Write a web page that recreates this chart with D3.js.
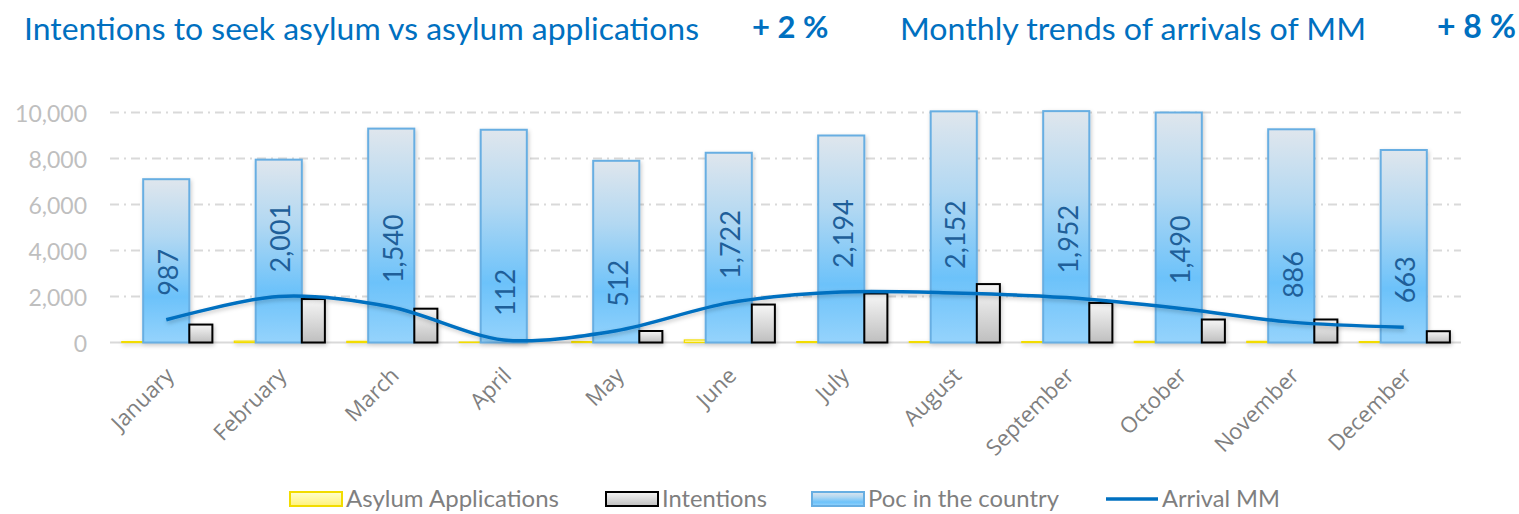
<!DOCTYPE html>
<html lang="en">
<head>
<meta charset="UTF-8">
<title>Intentions to seek asylum vs asylum applications</title>
<script src="https://d3js.org/d3.v7.min.js"></script>
<style>
    body, html { margin: 0; padding: 0; overflow: hidden; background: #fff; }
    .title { font-family: Lato, sans-serif; fill: #0070C0; }
    .ytick { font-family: Lato, sans-serif; font-size: 23px; fill: #BFBFBF; }
    .xtick { font-family: "Open Sans", sans-serif; font-size: 22px; fill: #808080; }
    .vlabel { font-family: Lato, sans-serif; font-size: 27px; fill: #1F5F99; }
    .legend text { font-family: Lato, sans-serif; font-size: 23px; fill: #7F7F7F; }
</style>
</head>
<body>
<svg id="chart" width="1519" height="514"></svg>
<script>
const months = ["January", "February", "March", "April", "May", "June", "July",
    "August", "September", "October", "November", "December"];
const asylumApps = [40, 60, 50, 20, 40, 110, 40, 40, 40, 50, 50, 40];
const intentions = [780, 1890, 1470, 0, 500, 1650, 2130, 2540, 1720, 1000, 1000, 490];
const pocCountry = [7100, 7950, 9300, 9250, 7900, 8250, 9000, 10050, 10060, 10000, 9270, 8370];
const arrivalMM = [987, 2001, 1540, 112, 512, 1722, 2194, 2152, 1952, 1490, 886, 663];
const yTicks = [0, 2000, 4000, 6000, 8000, 10000];
const legendItems = ["Asylum Applications", "Intentions", "Poc in the country", "Arrival MM"];

const svg = d3.select("#chart");
const fmt = d3.format(",");

// gradients + shadow
const defs = svg.append("defs");
function grad(id, stops) {
    const g = defs.append("linearGradient").attr("id", id)
        .attr("x1", 0).attr("y1", 0).attr("x2", 0).attr("y2", 1);
    stops.forEach(s => g.append("stop").attr("offset", s[0]).attr("stop-color", s[1]));
}
grad("gPoc", [[0, "#dfe6ed"], [0.35, "#b2d8f2"], [0.72, "#6cc2fa"], [1, "#95d3fc"]]);
grad("gInt", [[0, "#f6f6f6"], [1, "#bfbfbf"]]);
grad("gAsy", [[0, "#ffffd0"], [1, "#fff27a"]]);
defs.append("filter").attr("id", "shadow").attr("x", "-20%").attr("y", "-20%")
    .attr("width", "140%").attr("height", "140%")
    .append("feDropShadow").attr("dx", 1).attr("dy", 2).attr("stdDeviation", 2)
    .attr("flood-color", "#000").attr("flood-opacity", 0.22);

// titles
svg.append("text").attr("class", "title").attr("x", 24).attr("y", 40)
    .attr("font-size", 31).attr("textLength", 675).attr("lengthAdjust", "spacingAndGlyphs")
    .text("Intentions to seek asylum vs asylum applications");
svg.append("text").attr("class", "title").attr("x", 752).attr("y", 38)
    .attr("font-size", 31).attr("font-weight", "bold").text("+ 2 %");
svg.append("text").attr("class", "title").attr("x", 900).attr("y", 40)
    .attr("font-size", 31).attr("textLength", 466).attr("lengthAdjust", "spacingAndGlyphs")
    .text("Monthly trends of arrivals of MM");
svg.append("text").attr("class", "title").attr("x", 1437).attr("y", 38)
    .attr("font-size", 32).attr("font-weight", "bold").text("+ 8 %");

// scales
const x = d3.scaleBand().domain(months).range([110, 1460]).padding(0);
const y = d3.scaleLinear().domain([0, 10000]).range([342.5, 112.5]);
const bw = x.bandwidth();
const cx = m => x(m) + bw / 2;

// grid
svg.append("g").selectAll("line").data(yTicks.filter(t => t > 0)).join("line")
    .attr("x1", 110).attr("x2", 1461)
    .attr("y1", d => y(d)).attr("y2", d => y(d))
    .attr("stroke", "#D9D9D9").attr("stroke-width", 2)
    .attr("stroke-dasharray", "9,5,2,5");
svg.append("line").attr("x1", 110).attr("x2", 1461).attr("y1", y(0)).attr("y2", y(0))
    .attr("stroke", "#D9D9D9").attr("stroke-width", 2);

svg.append("g").selectAll("text").data(yTicks).join("text")
    .attr("class", "ytick").attr("x", 87).attr("y", d => y(d))
    .attr("text-anchor", "end").attr("dominant-baseline", "central")
    .text(d => fmt(d));

// bars
const pocW = bw * 0.41, sideW = bw * 0.205, asyW = bw * 0.19;
const bars = svg.append("g").attr("filter", "url(#shadow)");
bars.selectAll(".asy").data(months).join("rect").attr("class", "asy")
    .attr("x", m => cx(m) - pocW / 2 - asyW).attr("width", asyW)
    .attr("y", (m, i) => y(asylumApps[i])).attr("height", (m, i) => y(0) - y(asylumApps[i]))
    .attr("fill", "url(#gAsy)").attr("stroke", "#F2DC00").attr("stroke-width", 1.2);
bars.selectAll(".poc").data(months).join("rect").attr("class", "poc")
    .attr("x", m => cx(m) - pocW / 2).attr("width", pocW)
    .attr("y", (m, i) => y(pocCountry[i])).attr("height", (m, i) => y(0) - y(pocCountry[i]))
    .attr("fill", "url(#gPoc)").attr("stroke", "#67AEE2").attr("stroke-width", 2);
bars.selectAll(".int").data(months.filter((m, i) => intentions[i] > 0)).join("rect").attr("class", "int")
    .attr("x", m => cx(m) + pocW / 2).attr("width", sideW)
    .attr("y", m => y(intentions[months.indexOf(m)]))
    .attr("height", m => y(0) - y(intentions[months.indexOf(m)]))
    .attr("fill", "url(#gInt)").attr("stroke", "#000").attr("stroke-width", 2);

// arrival line
const line = d3.line().x((d, i) => cx(months[i])).y(d => y(d)).curve(d3.curveCardinal.tension(0.1));
svg.append("path").datum(arrivalMM).attr("d", line)
    .attr("fill", "none").attr("stroke", "#0070C0").attr("stroke-width", 3.5)
    .attr("filter", "url(#shadow)");

svg.append("g").selectAll("text").data(arrivalMM).join("text")
    .attr("class", "vlabel")
    .attr("transform", (d, i) => `translate(${cx(months[i]) + 1},${y(d) - 24}) rotate(-90)`)
    .attr("dominant-baseline", "central")
    .text(d => fmt(d));

// x labels
svg.append("g").selectAll("text").data(months).join("text")
    .attr("class", "xtick")
    .attr("transform", m => `translate(${cx(m) + 9},${377}) rotate(-45)`)
    .attr("text-anchor", "end")
    .text(m => m);

// legend
const lg = svg.append("g").attr("class", "legend");
const swatchX = [290, 606, 812, 1106];
const fills = ["url(#gAsy)", "url(#gInt)", "url(#gPoc)", null];
const strokes = ["#F2DC00", "#000", "#67AEE2", "#0070C0"];
const textW = [213, 105, 191, 118];
legendItems.forEach((t, i) => {
    if (fills[i]) {
        lg.append("rect").attr("x", swatchX[i]).attr("y", 492).attr("width", 52).attr("height", 14)
            .attr("fill", fills[i]).attr("stroke", strokes[i]).attr("stroke-width", 2);
    } else {
        lg.append("line").attr("x1", swatchX[i]).attr("x2", swatchX[i] + 52)
            .attr("y1", 499).attr("y2", 499).attr("stroke", strokes[i]).attr("stroke-width", 3.5);
    }
    lg.append("text").attr("x", swatchX[i] + 56).attr("y", 507)
        .attr("textLength", textW[i]).attr("lengthAdjust", "spacingAndGlyphs").text(t);
});
</script>
</body>
</html>
